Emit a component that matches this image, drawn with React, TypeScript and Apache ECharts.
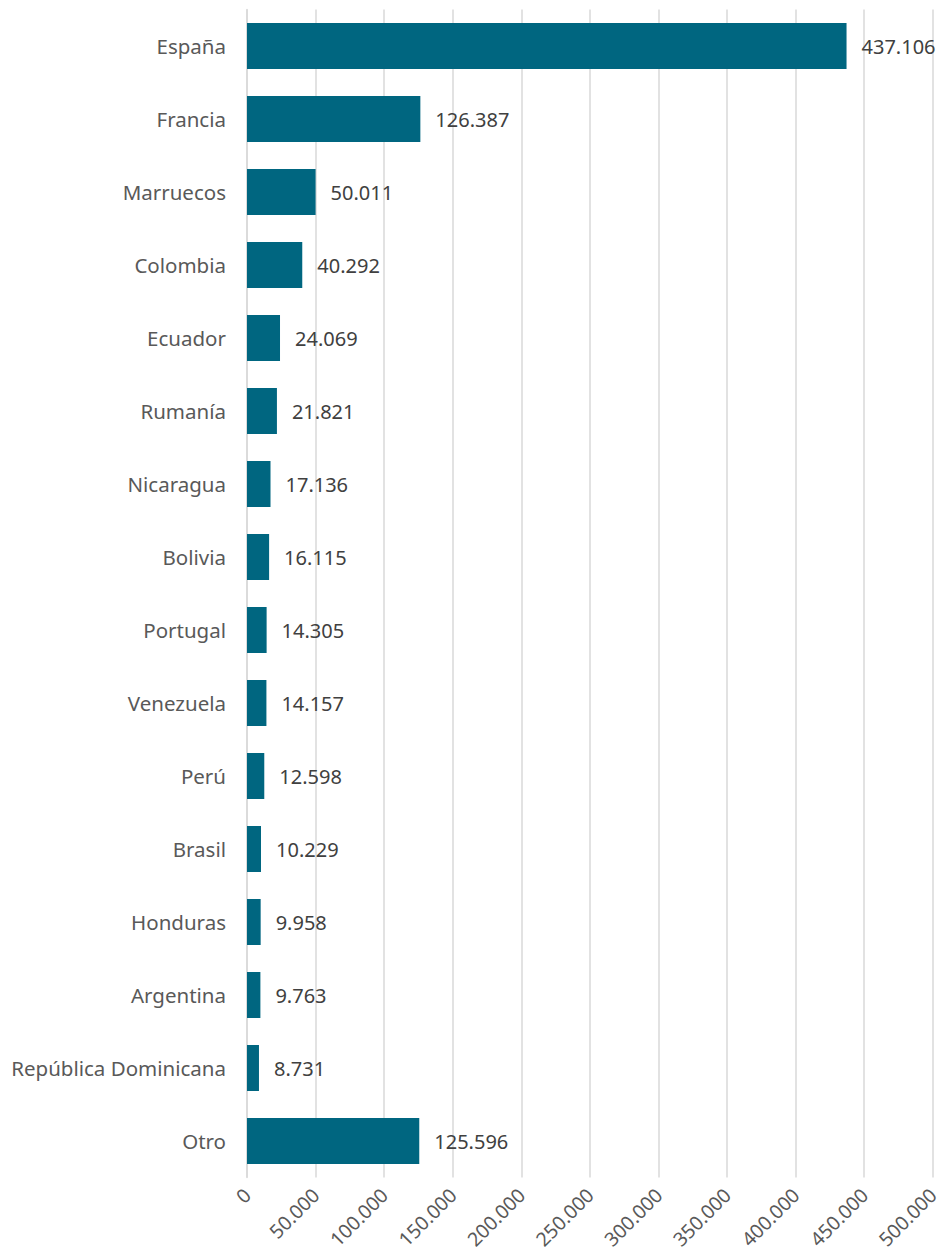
import React, { useEffect, useRef } from "react";
import * as echarts from "echarts";

const categories = [
  "España", "Francia", "Marruecos", "Colombia", "Ecuador", "Rumanía", "Nicaragua", "Bolivia",
  "Portugal", "Venezuela", "Perú", "Brasil", "Honduras", "Argentina", "República Dominicana", "Otro",
];
const values = [
  437106, 126387, 50011, 40292, 24069, 21821, 17136, 16115,
  14305, 14157, 12598, 10229, 9958, 9763, 8731, 125596,
];
const axisMin = 0;
const axisMax = 500000;
const axisInterval = 50000;

const fmt = (v: number) => String(Math.round(v)).replace(/\B(?=(\d{3})+(?!\d))/g, ".");

export default function App() {
  const ref = useRef<HTMLDivElement>(null);
  useEffect(() => {
    if (!ref.current) return;
    const chart = echarts.init(ref.current, undefined, { renderer: "svg" });
    const font = "'Noto Sans', sans-serif";
    chart.setOption({
      animation: false,
      grid: { left: 247, right: 5, top: 9.5, bottom: 81.5, containLabel: false },
      xAxis: {
        type: "value",
        min: axisMin,
        max: axisMax,
        interval: axisInterval,
        axisLine: { show: false },
        axisTick: { show: false },
        splitLine: { show: true, lineStyle: { color: "#d9d9d9", width: 1.5 } },
        axisLabel: {
          rotate: 45,
          margin: 14,
          color: "#595959",
          fontFamily: font,
          fontSize: 19.5,
          formatter: (v: number) => fmt(v),
        },
      },
      yAxis: {
        type: "category",
        data: categories,
        inverse: true,
        axisLine: { show: true, lineStyle: { color: "#d9d9d9", width: 1.5 } },
        axisTick: { show: false },
        axisLabel: {
          color: "#595959",
          fontFamily: font,
          fontSize: 20.5,
          margin: 21,
        },
      },
      series: [
        {
          type: "bar",
          data: values,
          barCategoryGap: "37%",
          itemStyle: { color: "#006680" },
          label: {
            show: true,
            position: "right",
            distance: 15,
            color: "#404040",
            fontFamily: font,
            fontSize: 20,
            formatter: (p: any) => fmt(p.value),
          },
        },
      ],
    });
    return () => chart.dispose();
  }, []);
  return (
    <div
      ref={ref}
      style={{ position: "fixed", left: 0, top: 0, width: 942, height: 1259, background: "#fff" }}
    />
  );
}
